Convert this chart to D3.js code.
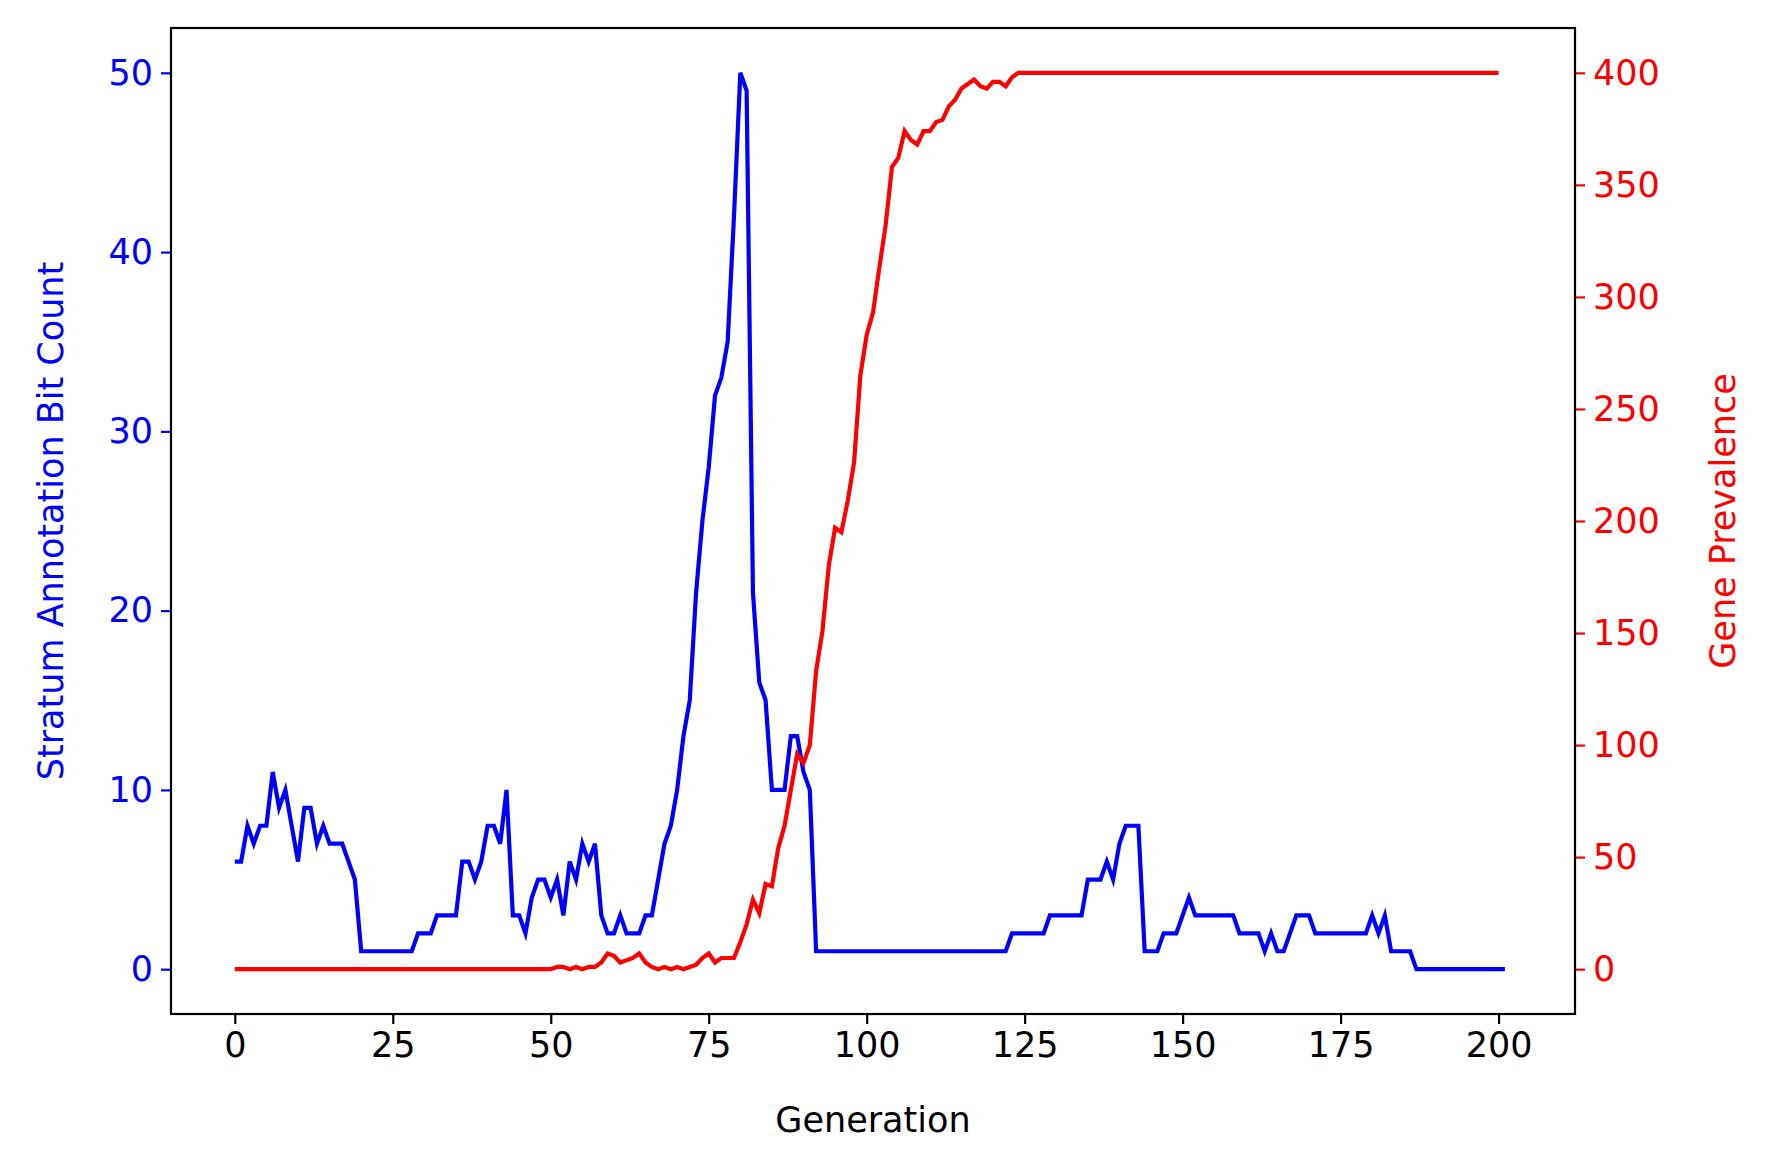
<!DOCTYPE html>
<html>
<head>
<meta charset="utf-8">
<script src="https://cdn.jsdelivr.net/npm/d3@7"></script>
<style>
  body { margin: 0; background: #fff; }
  text { font-family: "DejaVu Sans", sans-serif; }
</style>
</head>
<body>
<div id="chart"></div>
<script>
// stratum annotation bit count per generation (0..201)
var bit_count = [
    6, 6, 8, 7, 8, 8, 11, 9, 10, 8, 6, 9, 9, 7, 8, 7, 7, 7, 6, 5,
    1, 1, 1, 1, 1, 1, 1, 1, 1, 2, 2, 2, 3, 3, 3, 3, 6, 6, 5, 6,
    8, 8, 7, 10, 3, 3, 2, 4, 5, 5, 4, 5, 3, 6, 5, 7, 6, 7, 3, 2,
    2, 3, 2, 2, 2, 3, 3, 5, 7, 8, 10, 13, 15, 21, 25, 28, 32, 33, 35, 42,
    50, 49, 21, 16, 15, 10, 10, 10, 13, 13, 11, 10, 1, 1, 1, 1, 1, 1, 1, 1,
    1, 1, 1, 1, 1, 1, 1, 1, 1, 1, 1, 1, 1, 1, 1, 1, 1, 1, 1, 1,
    1, 1, 1, 2, 2, 2, 2, 2, 2, 3, 3, 3, 3, 3, 3, 5, 5, 5, 6, 5,
    7, 8, 8, 8, 1, 1, 1, 2, 2, 2, 3, 4, 3, 3, 3, 3, 3, 3, 3, 2,
    2, 2, 2, 1, 2, 1, 1, 2, 3, 3, 3, 2, 2, 2, 2, 2, 2, 2, 2, 2,
    3, 2, 3, 1, 1, 1, 1, 0, 0, 0, 0, 0, 0, 0, 0, 0, 0, 0, 0, 0,
    0, 0
];

// gene prevalence per generation (0..200)
var prevalence = [
    0, 0, 0, 0, 0, 0, 0, 0, 0, 0, 0, 0, 0, 0, 0, 0, 0, 0, 0, 0,
    0, 0, 0, 0, 0, 0, 0, 0, 0, 0, 0, 0, 0, 0, 0, 0, 0, 0, 0, 0,
    0, 0, 0, 0, 0, 0, 0, 0, 0, 0, 0, 1, 1, 0, 1, 0, 1, 1, 3, 7,
    6, 3, 4, 5, 7, 3, 1, 0, 1, 0, 1, 0, 1, 2, 5, 7, 3, 5, 5, 5,
    12, 20, 31, 25, 38, 37, 54, 64, 80, 96, 92, 100, 133, 151, 180, 197, 195, 209, 226, 265,
    283, 293, 313, 332, 358, 362, 374, 370, 368, 374, 374, 378, 379, 385, 388, 393, 395, 397, 394, 393,
    396, 396, 394, 398, 400, 400, 400, 400, 400, 400, 400, 400, 400, 400, 400, 400, 400, 400, 400, 400,
    400, 400, 400, 400, 400, 400, 400, 400, 400, 400, 400, 400, 400, 400, 400, 400, 400, 400, 400, 400,
    400, 400, 400, 400, 400, 400, 400, 400, 400, 400, 400, 400, 400, 400, 400, 400, 400, 400, 400, 400,
    400, 400, 400, 400, 400, 400, 400, 400, 400, 400, 400, 400, 400, 400, 400, 400, 400, 400, 400, 400,
    400
];

var x_ticks = [0, 25, 50, 75, 100, 125, 150, 175, 200];
var left_ticks = [0, 10, 20, 30, 40, 50];
var right_ticks = [0, 50, 100, 150, 200, 250, 300, 350, 400];

var margin = { top: 28, right: 189, bottom: 156, left: 171 };
var width = 1771 - margin.left - margin.right - 7;
var height = 1170 - margin.top - margin.bottom;

var svg = d3.select("#chart")
    .append("svg")
    .attr("width", 1771)
    .attr("height", 1170)
    .append("g")
    .attr("transform", "translate(" + margin.left + "," + margin.top + ")");

var x = d3.scaleLinear().domain([-10.1, 212.1]).range([0, width]);
var y_left = d3.scaleLinear().domain([-2.5, 52.5]).range([height, 0]);
var y_right = d3.scaleLinear().domain([-20, 420]).range([height, 0]);

function style_axis(g, colour) {
    g.select(".domain").remove();
    g.selectAll("line").attr("stroke", colour).attr("stroke-width", 2.2);
    g.selectAll("text").attr("fill", colour).style("font-size", "35px");
}

svg.append("g")
    .attr("transform", "translate(0," + height + ")")
    .call(d3.axisBottom(x).tickValues(x_ticks).tickSize(10).tickPadding(8))
    .call(style_axis, "black");

svg.append("g")
    .call(d3.axisLeft(y_left).tickValues(left_ticks).tickSize(10).tickPadding(8))
    .call(style_axis, "blue");

svg.append("g")
    .attr("transform", "translate(" + width + ",0)")
    .call(d3.axisRight(y_right).tickValues(right_ticks).tickSize(10).tickPadding(8))
    .call(style_axis, "red");

var line_left = d3.line()
    .x(function (d, i) { return x(i); })
    .y(function (d) { return y_left(d); });
var line_right = d3.line()
    .x(function (d, i) { return x(i); })
    .y(function (d) { return y_right(d); });

svg.append("path")
    .datum(bit_count)
    .attr("d", line_left)
    .attr("fill", "none")
    .attr("stroke", "blue")
    .attr("stroke-width", 4.2);

svg.append("path")
    .datum(prevalence)
    .attr("d", line_right)
    .attr("fill", "none")
    .attr("stroke", "red")
    .attr("stroke-width", 4.2);

// frame
svg.append("rect")
    .attr("width", width)
    .attr("height", height)
    .attr("fill", "none")
    .attr("stroke", "black")
    .attr("stroke-width", 2.2);

svg.append("text")
    .attr("x", width / 2)
    .attr("y", height + 118)
    .attr("text-anchor", "middle")
    .style("font-size", "35px")
    .text("Generation");

svg.append("text")
    .attr("transform", "translate(-108," + (height / 2) + ") rotate(-90)")
    .attr("text-anchor", "middle")
    .style("font-size", "35px")
    .attr("fill", "blue")
    .text("Stratum Annotation Bit Count");

svg.append("text")
    .attr("transform", "translate(" + (width + 160) + "," + (height / 2) + ") rotate(-90)")
    .attr("text-anchor", "middle")
    .style("font-size", "35px")
    .attr("fill", "red")
    .text("Gene Prevalence");
</script>
</body>
</html>
